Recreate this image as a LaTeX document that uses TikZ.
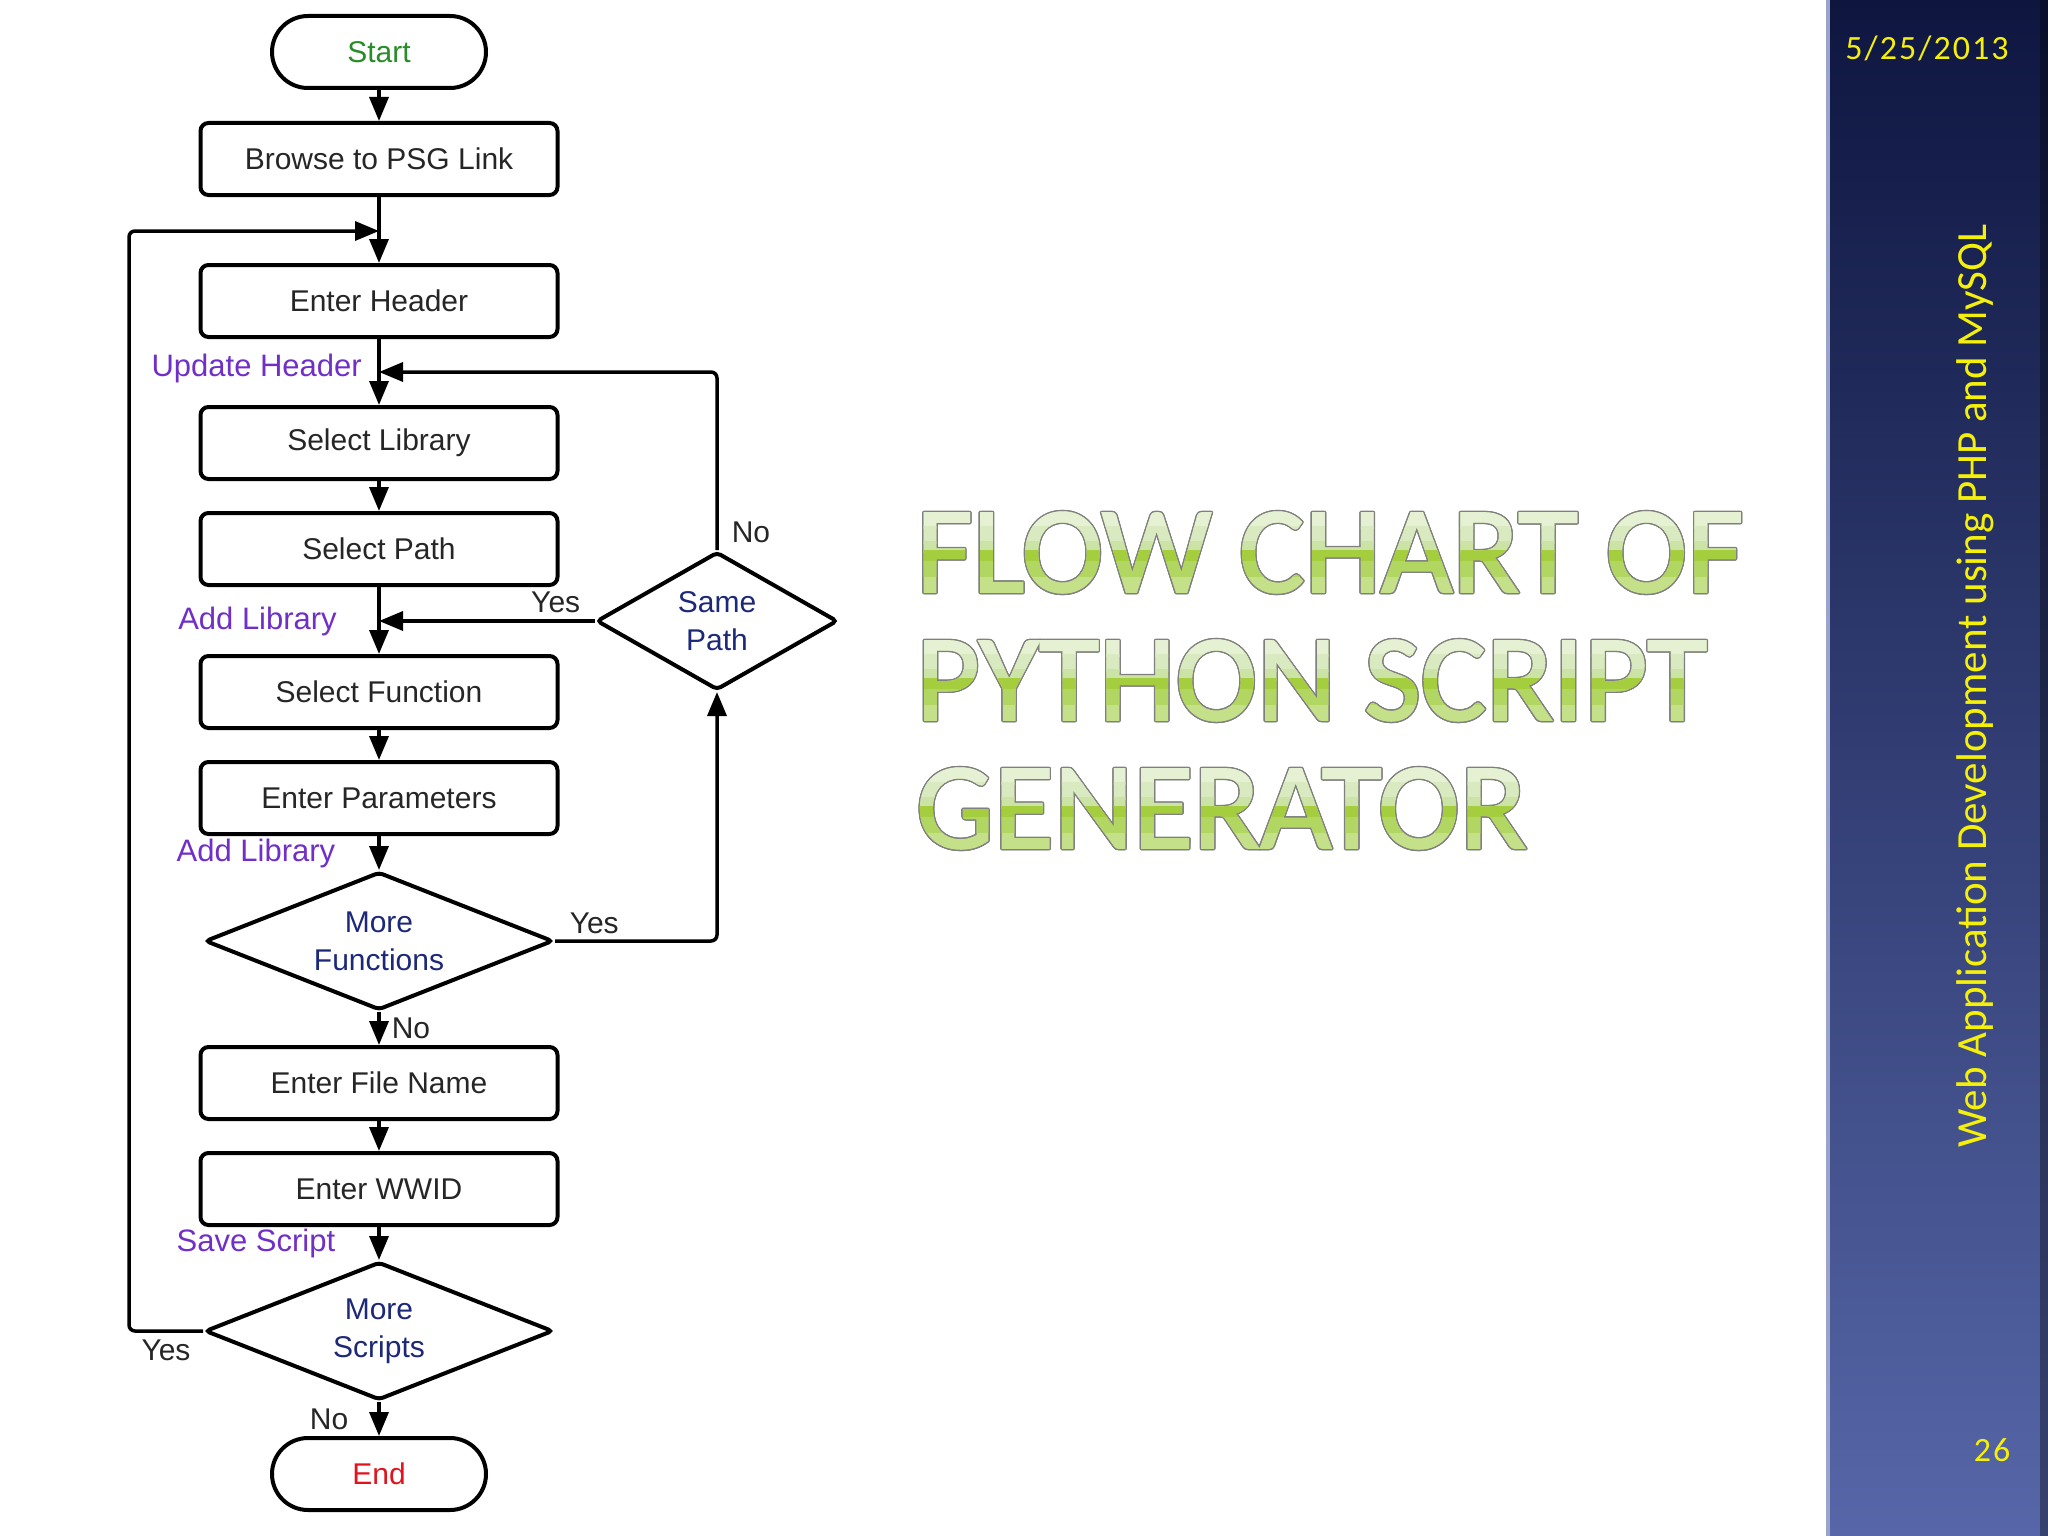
\documentclass[tikz,border=0pt]{standalone}
\usepackage{fontspec}
\setmainfont{Liberation Sans}
\newfontfamily\sidefont{Carlito}
\newfontfamily\datefont[LetterSpace=6]{Carlito}
\newfontfamily\titlefont[FakeBold=1.5]{Carlito}
\usepackage[copies]{contour}
\contourlength{1.4pt}
\usetikzlibrary{shapes.geometric,arrows.meta,positioning}
\definecolor{tagcolor}{RGB}{112,48,200}
\definecolor{asknavy}{RGB}{28,40,120}
\definecolor{startgreen}{RGB}{40,140,40}
\definecolor{endred}{RGB}{225,20,30}
\definecolor{tgbase}{RGB}{196,225,138}
\definecolor{tgone}{RGB}{230,241,212}
\definecolor{tgtwo}{RGB}{218,234,192}
\definecolor{tgthree}{RGB}{204,227,166}
\definecolor{tgfour}{RGB}{164,206,62}
\definecolor{tgfive}{RGB}{178,214,98}
\definecolor{bartop}{RGB}{14,22,64}
\definecolor{barbottom}{RGB}{86,102,168}
\definecolor{sideyellow}{RGB}{245,240,10}
\tikzset{
	box/.style={draw,line width=4pt,rounded corners=8pt,minimum width=357pt,minimum height=72pt,inner sep=0pt,text=black!85,font=\fontsize{30}{36}\selectfont},
	terminal/.style={box,rounded corners=36pt,minimum width=214pt},
	decision/.style={draw,diamond,aspect=2.5,line width=4pt,rounded corners=4pt,inner sep=0pt,minimum width=348pt,minimum height=138pt,align=center,text=asknavy,font=\fontsize{30}{38}\selectfont},
	flow/.style={line width=3.5pt,-{Triangle[length=24pt,width=19pt]}},
	tag/.style={text=tagcolor,inner sep=3pt,font=\fontsize{31}{36}\selectfont},
	answer/.style={text=black!85,inner sep=3pt,font=\fontsize{30}{36}\selectfont},
	titleline/.style={anchor=base west,inner sep=0pt,font=\titlefont\fontsize{123}{123}\selectfont}
}
\begin{document}
\begin{tikzpicture}[x=1pt,y=-1pt]
		\useasboundingbox (0,0) rectangle (2048,1536);
		\fill[white] (0,0) rectangle (2048,1536);
		
		% side bar
		\shade[top color=bartop,bottom color=barbottom] (1826,0) rectangle (2048,1536);
		\fill[barbottom!60!white] (1826,0) rectangle (1830,1536);
		\fill[black,opacity=0.35] (2040,0) rectangle (2048,1536);
		\node[text=sideyellow,font=\datefont\fontsize{34}{40}\selectfont] (date) at (1927,48) {5/25/2013};
		\node[rotate=90,text=sideyellow,font=\sidefont\fontsize{43}{50}\selectfont] (footer) at (1975,686) {Web Application Development using PHP and MySQL};
		\node[text=sideyellow,font=\datefont\fontsize{34}{40}\selectfont] (page) at (1992,1450) {26};
		
		% title, banded green
		\foreach \b/\t [count=\i] in {592/FLOW CHART OF,720/PYTHON SCRIPT,848/GENERATOR}{
			\node[titleline,text=tgbase] (title\i) at (916,\b) {\contour{gray}{\t}};
			\foreach \f/\g/\c in {-0.1/0.2/tgone,0.2/0.38/tgtwo,0.38/0.5/tgthree,0.5/0.64/tgfour,0.64/0.8/tgfive}{
				\begin{scope}
					\clip (900,\b-81+\f*79) rectangle (1800,\b-79+\g*79);
					\node[titleline,text=\c] at (916,\b) {\t};
				\end{scope}
			}
		}
		
		% flow chart
		\node[terminal,text=startgreen] (start) at (379,52) {Start};
		\node[box] (browse) at (379,159) {Browse to PSG Link};
		\node[box] (header) at (379,301) {Enter Header};
		\node[box] (sellib) at (379,443) {Select Library};
		\node[box] (selpath) at (379,549) {Select Path};
		\node[box] (selfn) at (379,692) {Select Function};
		\node[box] (params) at (379,798) {Enter Parameters};
		\node[decision] (morefn) at (379,941) {More\\Functions};
		\node[box] (filename) at (379,1083) {Enter File Name};
		\node[box] (wwid) at (379,1189) {Enter WWID};
		\node[decision] (morescr) at (379,1331) {More\\Scripts};
		\node[terminal,text=endred] (end) at (379,1474) {End};
		\node[decision,aspect=1.75,minimum width=241pt] (samepath) at (717,621) {Same\\Path};
		
		\coordinate (toploop) at (379,231);
		\coordinate (updhdr) at (379,372);
		\coordinate (addlib) at (379,621);
		
		\draw[flow] (start) -- (browse);
		\draw[flow] (browse) -- (header);
		\draw[flow] (header) -- (sellib);
		\draw[flow] (sellib) -- (selpath);
		\draw[flow] (selpath) -- (selfn);
		\draw[flow] (selfn) -- (params);
		\draw[flow] (params) -- node[tag,left=39pt]{Add Library} (morefn);
		\draw[flow] (morefn) -- node[answer,right=8pt]{No} (filename);
		\draw[flow] (filename) -- (wwid);
		\draw[flow] (wwid) -- node[tag,left=39pt]{Save Script} (morescr);
		\draw[flow] (morescr) -- node[answer,left=26pt]{No} (end);
		
		% loops
		\draw[flow,rounded corners=6pt] (morescr.west) -- node[answer,below=4pt]{Yes} ++(-74,0) |- (toploop);
		\draw[flow,rounded corners=6pt] (samepath.north) node[answer,above right=2pt and 10pt]{No} |- (updhdr);
		\draw[flow] (samepath.west) -- node[answer,above=3pt,pos=0.18]{Yes} (addlib);
		\draw[flow,rounded corners=6pt] (morefn.east) node[answer,above right=2pt and 10pt]{Yes} -| (samepath.south);
		
		\node[tag,left=14pt of updhdr,yshift=4pt] (updlabel) {Update Header};
		\node[tag,left=39pt of addlib] (addlabel) {Add Library};
	\end{tikzpicture}
\end{document}
